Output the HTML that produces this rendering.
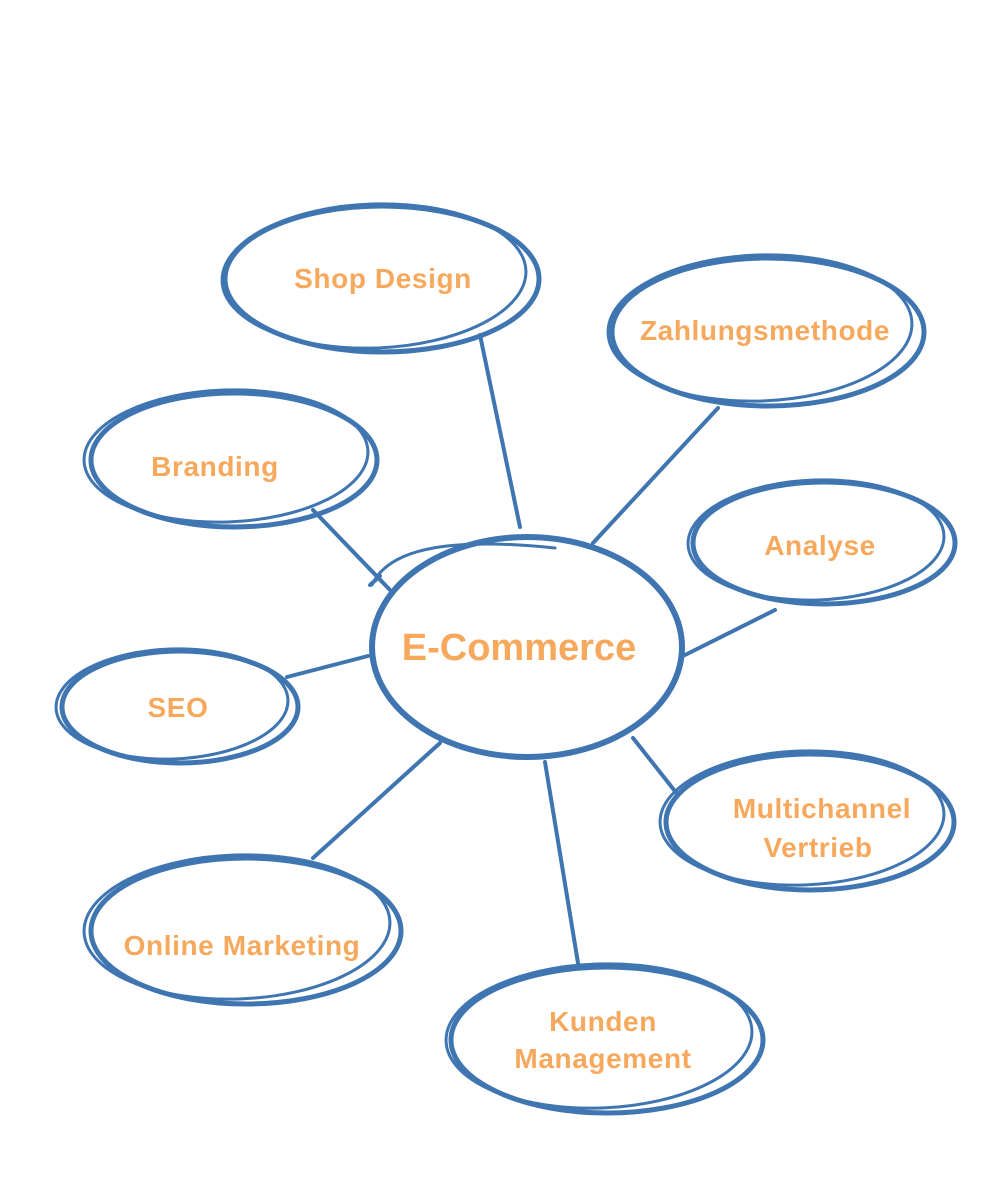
<!DOCTYPE html>
<html><head><meta charset="utf-8"><style>
html,body{margin:0;padding:0;background:#fff;}
svg{display:block;}
text{font-family:"Liberation Sans","DejaVu Sans",sans-serif;font-weight:bold;fill:#f6a85c;text-anchor:middle;}
</style></head><body>
<svg width="1000" height="1200" viewBox="0 0 1000 1200" xmlns="http://www.w3.org/2000/svg">
<g fill="none" stroke="#3f75b0" stroke-linecap="round">
<g stroke-width="4">
<line x1="480" y1="335" x2="520" y2="527"/>
<line x1="718" y1="408" x2="593" y2="543"/>
<line x1="313" y1="510" x2="390" y2="590"/>
<line x1="370" y1="585" x2="380" y2="576"/>
<line x1="775" y1="610" x2="685" y2="655"/>
<line x1="287" y1="677" x2="368" y2="656"/>
<line x1="633" y1="738" x2="678" y2="795"/>
<line x1="440" y1="743" x2="313" y2="858"/>
<line x1="545" y1="762" x2="578" y2="963"/>
</g>
<ellipse cx="382" cy="279" rx="157" ry="73" stroke-width="5"/>
<ellipse cx="374" cy="276" rx="152" ry="72" stroke-width="3" transform="rotate(-2 374 276)"/>
<ellipse cx="768" cy="332" rx="156" ry="74" stroke-width="5"/>
<ellipse cx="760" cy="328" rx="152" ry="73" stroke-width="3" transform="rotate(-2 760 328)"/>
<ellipse cx="234" cy="460" rx="143" ry="67" stroke-width="5"/>
<ellipse cx="226" cy="456" rx="142" ry="66" stroke-width="3" transform="rotate(-2 226 456)"/>
<ellipse cx="824" cy="543" rx="131" ry="61" stroke-width="5"/>
<ellipse cx="816" cy="540" rx="128" ry="60" stroke-width="3" transform="rotate(-2 816 540)"/>
<ellipse cx="527" cy="647" rx="155" ry="110" stroke-width="6"/>
<path d="M372 585 C390 545 460 538 555 548" stroke-width="3"/>
<ellipse cx="180" cy="707" rx="118" ry="56" stroke-width="5"/>
<ellipse cx="172" cy="704" rx="116" ry="55" stroke-width="3" transform="rotate(-2 172 704)"/>
<ellipse cx="810" cy="822" rx="144" ry="68" stroke-width="5"/>
<ellipse cx="802" cy="818" rx="142" ry="67" stroke-width="3" transform="rotate(-2 802 818)"/>
<ellipse cx="246" cy="931" rx="155" ry="73" stroke-width="5"/>
<ellipse cx="237" cy="927" rx="153" ry="72" stroke-width="3" transform="rotate(-2 237 927)"/>
<ellipse cx="607" cy="1040" rx="156" ry="73" stroke-width="5"/>
<ellipse cx="599" cy="1036" rx="153" ry="72" stroke-width="3" transform="rotate(-2 599 1036)"/>
</g>
<g font-size="28" letter-spacing="0.6">
<text x="383" y="288">Shop Design</text>
<text x="765" y="340">Zahlungsmethode</text>
<text x="215" y="476">Branding</text>
<text x="820" y="555">Analyse</text>
<text x="178" y="717">SEO</text>
<text x="822" y="818">Multichannel</text>
<text x="818" y="857">Vertrieb</text>
<text x="242" y="955">Online Marketing</text>
<text x="603" y="1031">Kunden</text>
<text x="603" y="1068">Management</text>
</g>
<text x="519" y="660" font-size="38">E-Commerce</text>
</svg>
</body></html>
